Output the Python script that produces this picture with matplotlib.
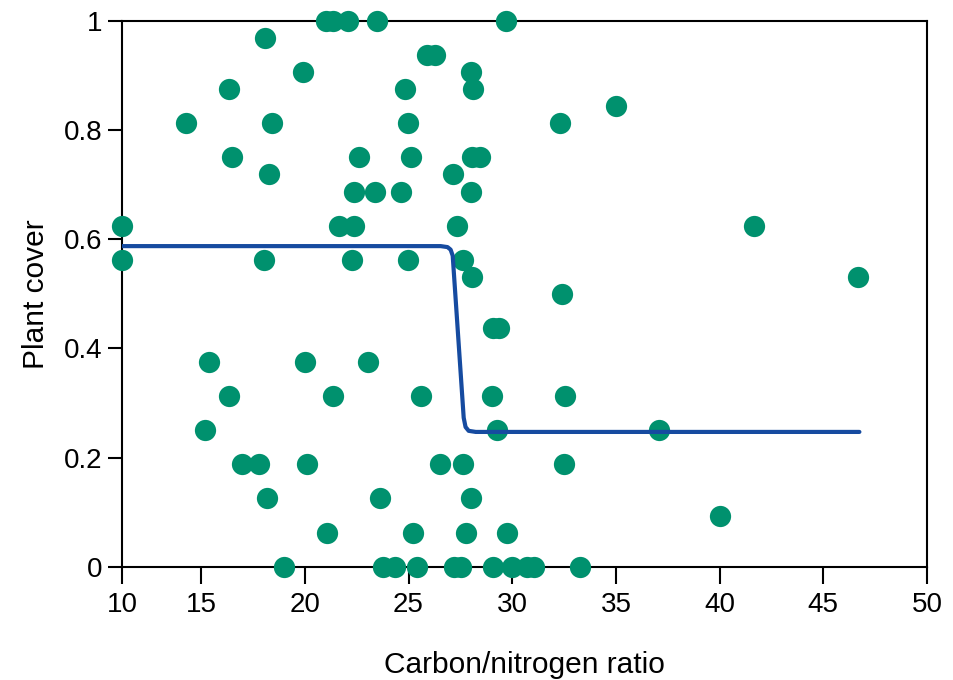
import numpy as np
import matplotlib
matplotlib.use('Agg')
import matplotlib.pyplot as plt

plt.rcParams['font.family'] = ['Liberation Sans', 'DejaVu Sans']

# observed plots: C/N ratio vs plant cover
cn_ratio = [21.04, 21.38, 22.10, 23.50, 29.69,
            18.06,
            25.90, 26.27,
            19.91, 28.00,
            16.35, 24.82, 28.10,
            35.00,
            14.05, 18.44, 24.99, 32.28,
            16.51, 22.63, 25.12, 28.08, 28.43,
            18.25, 27.14,
            22.39, 23.37, 24.66, 28.00,
            10.00, 21.65, 22.36, 27.35, 41.68,
            10.00, 18.01, 22.28, 24.98, 27.62,
            28.04, 46.68,
            32.41,
            29.05, 29.35,
            15.40, 19.99, 23.05,
            16.32, 21.34, 25.60, 29.04, 32.54,
            15.19, 29.28, 37.09,
            16.96, 17.80, 20.11, 26.50, 27.62, 32.50,
            18.17, 23.61, 28.03,
            40.01,
            21.07, 25.21, 27.75, 29.77,
            19.00, 23.78, 24.34, 25.40, 27.19, 27.51, 29.09, 30.01, 30.70, 31.05, 33.28]
cover = [1, 1, 1, 1, 1,
         0.96875,
         0.9375, 0.9375,
         0.90625, 0.90625,
         0.875, 0.875, 0.875,
         0.84375,
         0.8125, 0.8125, 0.8125, 0.8125,
         0.75, 0.75, 0.75, 0.75, 0.75,
         0.71875, 0.71875,
         0.6875, 0.6875, 0.6875, 0.6875,
         0.625, 0.625, 0.625, 0.625, 0.625,
         0.5625, 0.5625, 0.5625, 0.5625, 0.5625,
         0.53125, 0.53125,
         0.5,
         0.4375, 0.4375,
         0.375, 0.375, 0.375,
         0.3125, 0.3125, 0.3125, 0.3125, 0.3125,
         0.25, 0.25, 0.25,
         0.1875, 0.1875, 0.1875, 0.1875, 0.1875, 0.1875,
         0.125, 0.125, 0.125,
         0.09375,
         0.0625, 0.0625, 0.0625, 0.0625,
         0, 0, 0, 0, 0, 0, 0, 0, 0, 0, 0]

# fitted threshold curve
fit_x = [10, 26.55, 26.88, 27.03, 27.13, 27.66, 27.75, 27.90, 28.24, 46.74]
fit_y = [0.5875, 0.5875, 0.5857, 0.581, 0.570, 0.273, 0.256, 0.249, 0.247, 0.247]

xticks = [10, 15, 20, 25, 30, 35, 40, 45, 50]
yticks = [0, 0.2, 0.4, 0.6, 0.8, 1]
ytick_labels = ['0', '0.2', '0.4', '0.6', '0.8', '1']

# the original axis is squeezed between 10 and 15
k = 0.763
def fwd(x):
    x = np.asarray(x, dtype=float)
    return np.where(x < 15, 15 - (15 - x) * k, x)

def inv(x):
    x = np.asarray(x, dtype=float)
    return np.where(x < 15, 15 - (15 - x) / k, x)

fig = plt.figure(figsize=(9.54, 6.8), dpi=100)
ax = fig.add_axes([0.1279, 0.1666, 0.8438, 0.8025])
ax.set_xscale('function', functions=(fwd, inv))

ax.plot(cn_ratio, cover, 'o', color='#00916E', markersize=15.3,
        markeredgewidth=0, clip_on=False, zorder=3)
ax.plot(fit_x, fit_y, color='#164BA0', linewidth=3, zorder=4,
        solid_joinstyle='round', solid_capstyle='round')

ax.set_xlim(10, 50)
ax.set_ylim(0, 1)
ax.set_xticks(xticks)
ax.set_xticklabels([str(t) for t in xticks])
ax.set_yticks(yticks)
ax.set_yticklabels(ytick_labels)
ax.minorticks_off()

for s in ax.spines.values():
    s.set_linewidth(1.5)
    s.set_color('black')
ax.tick_params(axis='x', length=12, width=1.5, labelsize=20, pad=6)
ax.tick_params(axis='y', length=10, width=1.5, labelsize=20, pad=4)

ax.set_xlabel('Carbon/nitrogen ratio', fontsize=21.5, labelpad=24)
ax.set_ylabel('Plant cover', fontsize=21.5, labelpad=10)

fig.savefig('out.png', dpi=100)
